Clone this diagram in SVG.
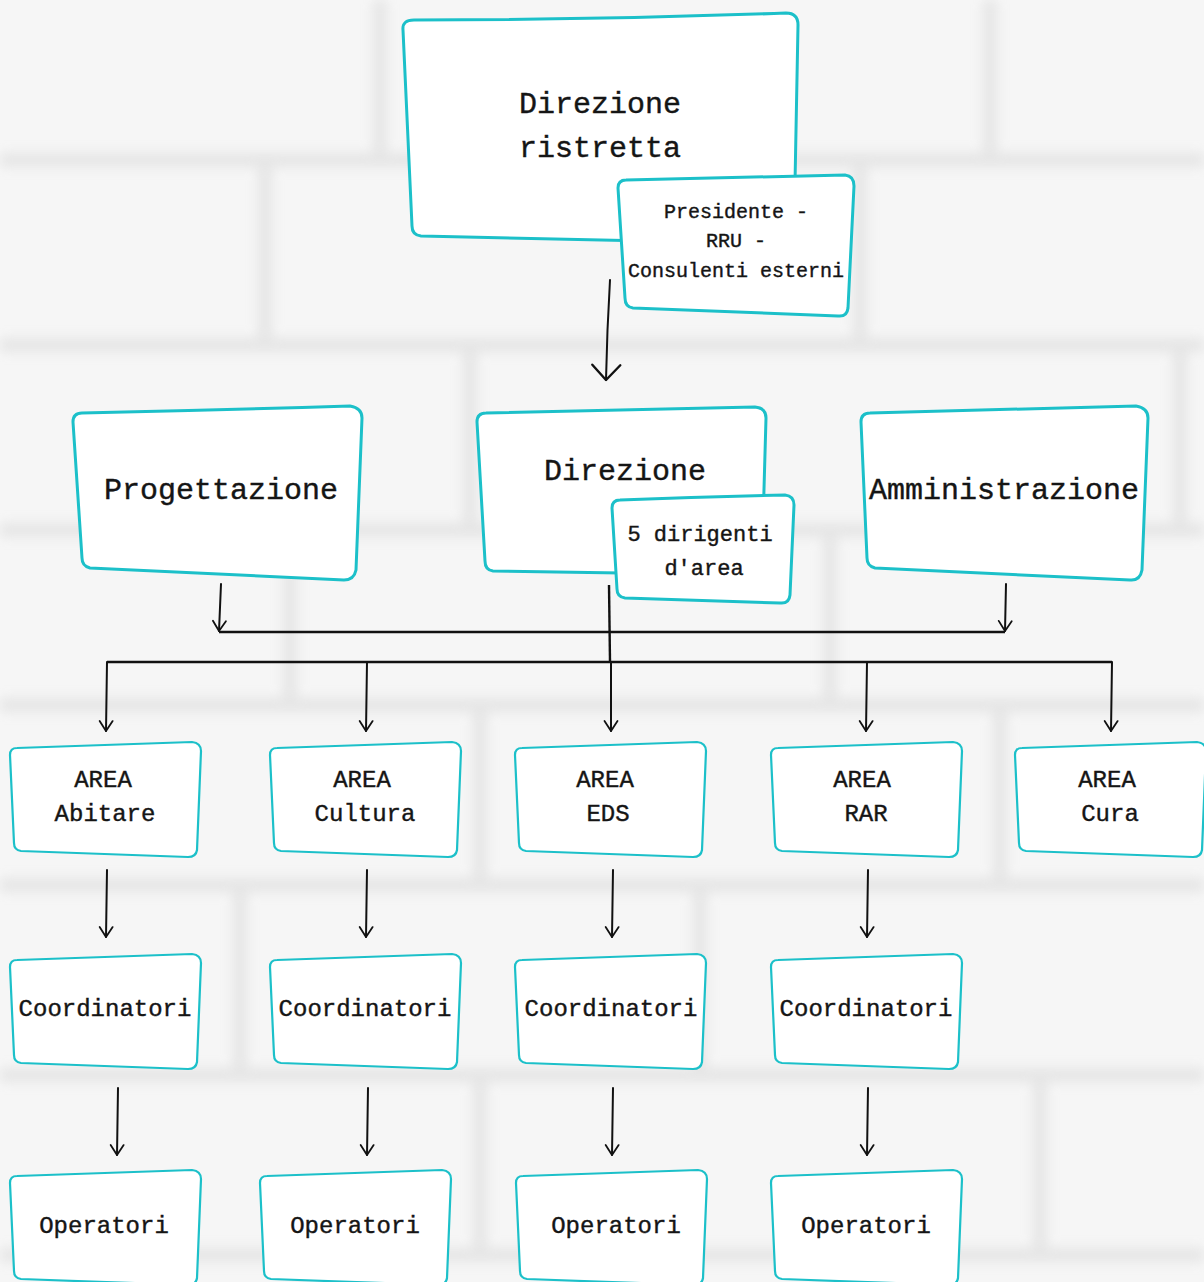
<svg xmlns="http://www.w3.org/2000/svg" xmlns:xlink="http://www.w3.org/1999/xlink" width="1204" height="1282" viewBox="0 0 1204 1282">
<style>
.box{fill:#ffffff;stroke:#1cc0c9;stroke-width:3;stroke-linejoin:round}
.sbox{fill:#ffffff;stroke:#1cc0c9;stroke-width:2.2;stroke-linejoin:round}
.t{font-family:"Liberation Mono","DejaVu Sans Mono",monospace;fill:#151515;stroke:#151515;stroke-width:0.4;text-anchor:middle}
.big{font-size:30px}
.mid{font-size:24px}
.sm{font-size:20px}
.ln{fill:none;stroke:#111;stroke-width:2;stroke-linecap:round}
.bus{fill:none;stroke:#111;stroke-width:2.4}
.mortar{fill:none;stroke:#e0e0e0;stroke-width:14}
</style>
<defs>
<filter id="soft" x="-5%" y="-5%" width="110%" height="110%"><feGaussianBlur stdDeviation="6"/></filter>
<marker id="ah" viewBox="-12 -10 14 20" refX="0" refY="0" markerUnits="userSpaceOnUse" markerWidth="14" markerHeight="20" orient="auto">
<path d="M-10,-6.5 L0,0 L-10,6.5" fill="none" stroke="#111" stroke-width="1.8" stroke-linecap="round" stroke-linejoin="round"/>
</marker>
<marker id="ahb" viewBox="-18 -16 20 32" refX="0" refY="0" markerUnits="userSpaceOnUse" markerWidth="20" markerHeight="32" orient="auto">
<path d="M-15,-14 L0,0 L-15,14" fill="none" stroke="#111" stroke-width="2.4" stroke-linecap="round" stroke-linejoin="round"/>
</marker>
<path id="sb" d="M0,7 Q0,0 7,0 Q90,-3 182,-6 Q191,-5 191,3 L187,102 Q186,109 178,109 L11,103 Q4,102 4,95 Z"/>
</defs>

<g id="background">
<rect x="0" y="0" width="1204" height="1282" fill="#f6f6f6"/>
<g filter="url(#soft)" opacity="0.75">
<path class="mortar" d="M0,160 H1204 M0,345 H1204 M0,530 H1204 M0,705 H1204 M0,885 H1204 M0,1075 H1204 M0,1255 H1204"/>
<path class="mortar" d="M380,0 V160 M990,0 V160 M265,160 V345 M860,160 V345 M470,345 V530 M1180,345 V530 M290,530 V705 M830,530 V705 M480,705 V885 M1000,705 V885 M240,885 V1075 M700,885 V1075 M1040,1075 V1255 M480,1075 V1255 M300,1255 V1282 M820,1255 V1282"/>
</g>
</g>

<g id="connectors">
<path class="ln" d="M610,280 Q607,330 606,380" marker-end="url(#ahb)"/>
<path class="ln" d="M221,584 L219,631" marker-end="url(#ah)"/>
<path class="ln" d="M1006,584 L1005,631" marker-end="url(#ah)"/>
<path class="bus" d="M219,632 L1005,632"/>
<path class="bus" d="M609,585 L610,662"/>
<path class="bus" d="M107,662 L1112,662"/>
<path class="ln" d="M107,662 L106,731" marker-end="url(#ah)"/>
<path class="ln" d="M367,662 L366,731" marker-end="url(#ah)"/>
<path class="ln" d="M611,662 L611,731" marker-end="url(#ah)"/>
<path class="ln" d="M867,662 L866,731" marker-end="url(#ah)"/>
<path class="ln" d="M1112,662 L1111,731" marker-end="url(#ah)"/>
<path class="ln" d="M107,870 L106,937" marker-end="url(#ah)"/>
<path class="ln" d="M367,870 L366,937" marker-end="url(#ah)"/>
<path class="ln" d="M613,870 L612,937" marker-end="url(#ah)"/>
<path class="ln" d="M868,870 L867,937" marker-end="url(#ah)"/>
<path class="ln" d="M118,1088 L117,1155" marker-end="url(#ah)"/>
<path class="ln" d="M368,1088 L367,1155" marker-end="url(#ah)"/>
<path class="ln" d="M613,1088 L612,1155" marker-end="url(#ah)"/>
<path class="ln" d="M868,1088 L867,1155" marker-end="url(#ah)"/>
</g>

<g id="node-direzione-ristretta">
<path class="box" d="M403,30 Q402,20 414,20 Q600,20 786,13 Q798,13 798,25 L794,236 Q794,244 786,244 L421,236 Q412,235 412,226 Z"/>
<text class="t big" x="600" y="113">Direzione</text>
<text class="t big" x="600" y="157">ristretta</text>
</g>
<g id="node-presidente">
<path class="box" d="M618,188 Q618,180 626,180 Q740,177 845,175 Q854,176 854,186 L848,308 Q847,317 838,316 L633,308 Q625,307 625,298 Z"/>
<text class="t sm" x="736" y="218">Presidente -</text>
<text class="t sm" x="736" y="247">RRU -</text>
<text class="t sm" x="736" y="277">Consulenti esterni</text>
</g>

<g id="node-progettazione">
<path class="box" d="M73,422 Q73,413 82,413 Q220,410 350,406 Q362,408 362,418 L356,570 Q354,580 344,580 L90,568 Q82,566 82,558 Z"/>
<text class="t big" x="221" y="499">Progettazione</text>
</g>
<g id="node-direzione">
<path class="box" d="M477,422 Q477,413 486,413 Q620,410 755,407 Q766,408 766,418 L762,560 Q761,575 750,575 L493,571 Q485,570 485,561 Z"/>
<text class="t big" x="625" y="480">Direzione</text>
</g>
<g id="node-dirigenti">
<path class="box" d="M612,508 Q612,500 620,500 Q700,497 785,495 Q794,496 794,505 L790,595 Q789,604 780,603 L625,598 Q617,597 617,589 Z"/>
<text class="t" style="font-size:22px" x="700" y="541">5 dirigenti</text>
<text class="t" style="font-size:22px" x="704" y="575">d'area</text>
</g>
<g id="node-amministrazione">
<path class="box" d="M861,422 Q861,413 870,413 Q1000,410 1136,406 Q1148,408 1148,418 L1142,570 Q1140,581 1130,580 L875,568 Q867,566 867,558 Z"/>
<text class="t big" x="1004" y="499">Amministrazione</text>
</g>

<g id="node-area-abitare">
<use href="#sb" xlink:href="#sb" class="sbox" transform="translate(10,748)"/>
<text class="t mid" x="103" y="787">AREA</text>
<text class="t mid" x="105" y="821">Abitare</text>
</g>
<g id="node-area-cultura">
<use href="#sb" xlink:href="#sb" class="sbox" transform="translate(270,748)"/>
<text class="t mid" x="362" y="787">AREA</text>
<text class="t mid" x="365" y="821">Cultura</text>
</g>
<g id="node-area-eds">
<use href="#sb" xlink:href="#sb" class="sbox" transform="translate(515,748)"/>
<text class="t mid" x="605" y="787">AREA</text>
<text class="t mid" x="608" y="821">EDS</text>
</g>
<g id="node-area-rar">
<use href="#sb" xlink:href="#sb" class="sbox" transform="translate(771,748)"/>
<text class="t mid" x="862" y="787">AREA</text>
<text class="t mid" x="866" y="821">RAR</text>
</g>
<g id="node-area-cura">
<use href="#sb" xlink:href="#sb" class="sbox" transform="translate(1015,748)"/>
<text class="t mid" x="1107" y="787">AREA</text>
<text class="t mid" x="1110" y="821">Cura</text>
</g>

<g id="node-coord-1">
<use href="#sb" xlink:href="#sb" class="sbox" transform="translate(10,960)"/>
<text class="t mid" x="105" y="1016">Coordinatori</text>
</g>
<g id="node-coord-2">
<use href="#sb" xlink:href="#sb" class="sbox" transform="translate(270,960)"/>
<text class="t mid" x="365" y="1016">Coordinatori</text>
</g>
<g id="node-coord-3">
<use href="#sb" xlink:href="#sb" class="sbox" transform="translate(515,960)"/>
<text class="t mid" x="611" y="1016">Coordinatori</text>
</g>
<g id="node-coord-4">
<use href="#sb" xlink:href="#sb" class="sbox" transform="translate(771,960)"/>
<text class="t mid" x="866" y="1016">Coordinatori</text>
</g>

<g id="node-oper-1">
<use href="#sb" xlink:href="#sb" class="sbox" transform="translate(10,1176)"/>
<text class="t mid" x="104" y="1233">Operatori</text>
</g>
<g id="node-oper-2">
<use href="#sb" xlink:href="#sb" class="sbox" transform="translate(260,1176)"/>
<text class="t mid" x="355" y="1233">Operatori</text>
</g>
<g id="node-oper-3">
<use href="#sb" xlink:href="#sb" class="sbox" transform="translate(516,1176)"/>
<text class="t mid" x="616" y="1233">Operatori</text>
</g>
<g id="node-oper-4">
<use href="#sb" xlink:href="#sb" class="sbox" transform="translate(771,1176)"/>
<text class="t mid" x="866" y="1233">Operatori</text>
</g>
</svg>
